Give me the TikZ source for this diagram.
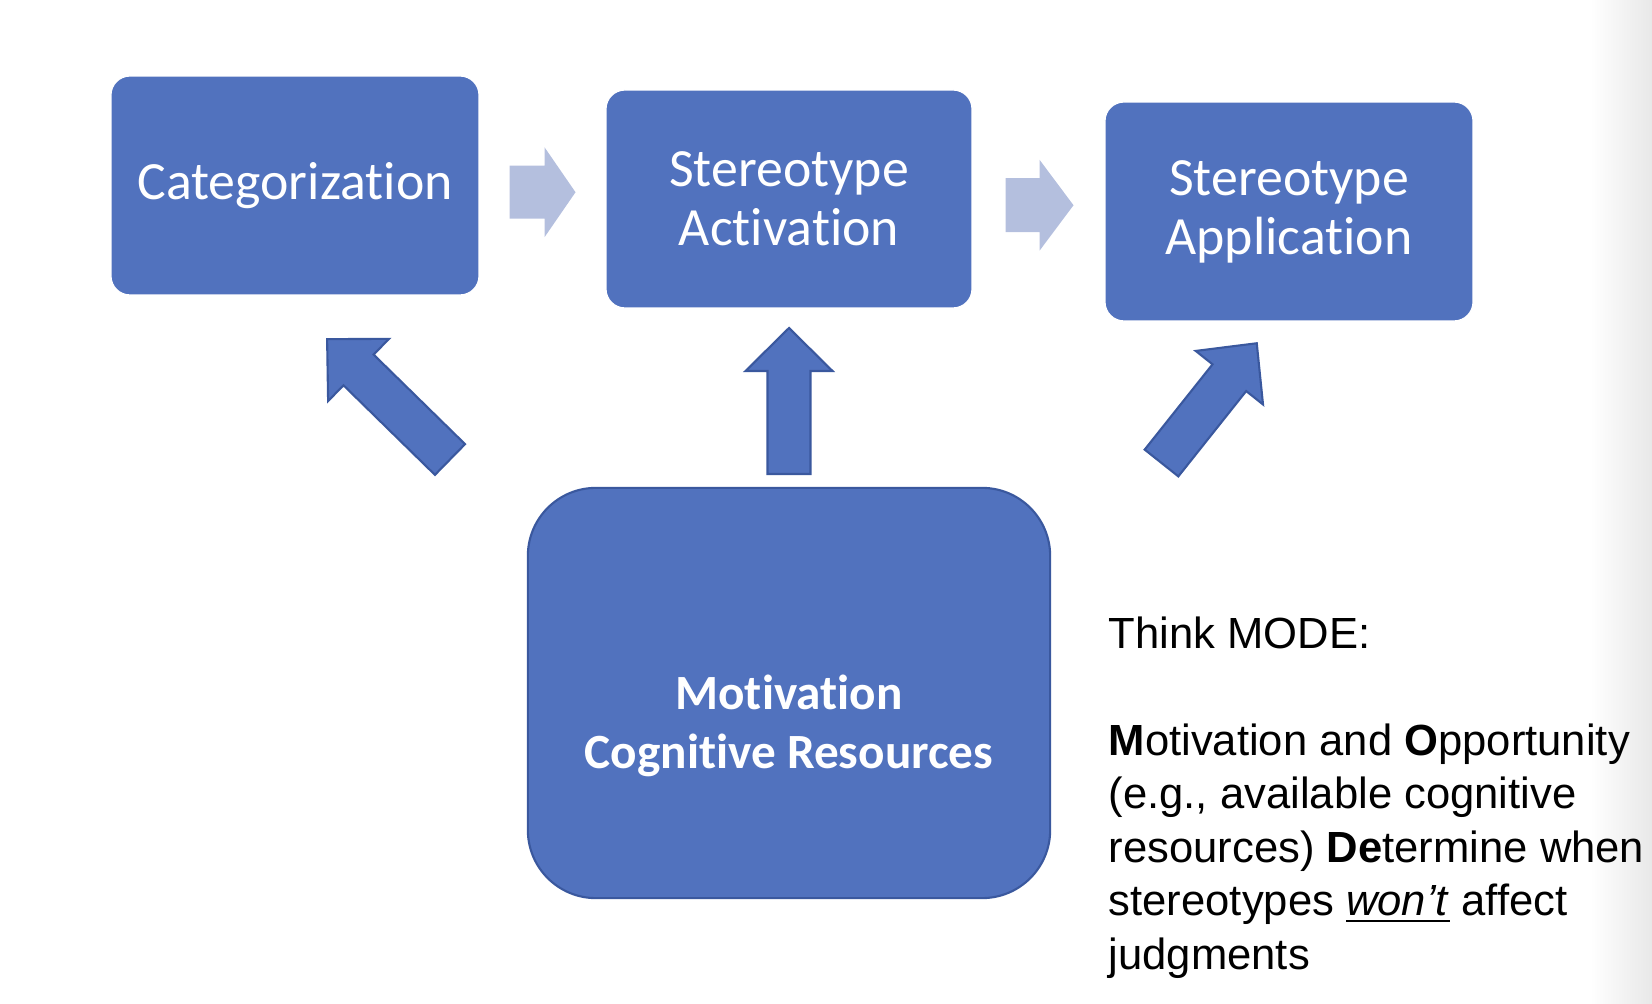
\documentclass[tikz,border=0pt]{standalone}
\usepackage{fontspec}
\setmainfont{Carlito}[RawFeature=-liga]
\newfontfamily\notefont{Liberation Sans}
\usetikzlibrary{calc}

\definecolor{boxblue}{RGB}{81,114,190}
\definecolor{boxline}{RGB}{58,88,158}
\definecolor{paleblue}{RGB}{180,191,222}

% fat block arrow: style, start, angle, length, shaft half width, head half width, head length
\newcommand{\blockarrow}[7]{%
  \begin{scope}[shift={#2},rotate=#3]
    \path[#1] (0,-#5) -- ({#4-#7},-#5) -- ({#4-#7},-#6) -- (#4,0)
      -- ({#4-#7},#6) -- ({#4-#7},#5) -- (0,#5) -- cycle;
  \end{scope}}

\tikzset{
  stagebox/.style={fill=boxblue,draw=white,line width=0.4pt,rounded corners=0.19cm,
    minimum width=3.68cm,minimum height=2.19cm,text=white,align=center,
    font=\fontsize{15.3}{16.8}\selectfont},
  bigbox/.style={fill=boxblue,draw=boxline,line width=0.6pt,rounded corners=0.68cm,
    minimum width=5.22cm,minimum height=4.10cm},
  bluearrow/.style={fill=boxblue,draw=boxline,line width=0.6pt},
  palearrow/.style={fill=paleblue}
}

\begin{document}
\begin{tikzpicture}[x=0.01cm,y=0.01cm]
\useasboundingbox (0,0) rectangle (1652,-1004);

% Right edge shading
\shade[left color=white,right color=black!9] (1590,0) rectangle (1652,-1004);

% Stage boxes
\node[stagebox] (categ) at (295,-185.5) {Categorization};
\node[stagebox,minimum width=3.66cm,minimum height=2.18cm] (activ) at (789,-199) {Stereotype\\Activation};
\node[stagebox] (appl) at (1289,-211.5) {Stereotype\\Application};

% Motivation box
\node[bigbox] (motiv) at (789,-693) {};
\node[text=white,align=center,font=\bfseries\fontsize{14}{17}\selectfont] (motivtext)
  at ($(motiv.center)+(0,-33)$) {Motivation\\Cognitive Resources};

% Pale arrows between stages
\blockarrow{palearrow}{($(categ.east)!0.5!(activ.west)+(-33,0)$)}{0}{66}{26.5}{45}{31}
\blockarrow{palearrow}{($(activ.east)!0.5!(appl.west)+(-33,0)$)}{0}{68}{27}{45.5}{34}

% Arrows out of the motivation box
\blockarrow{bluearrow}{(450,-459.5)}{135.6}{172}{21.5}{43.5}{44}
\blockarrow{bluearrow}{(789,-474)}{90}{146}{21.5}{43.5}{43}
\blockarrow{bluearrow}{(1161.5,-463)}{51.5}{153}{21.5}{43}{44}

% Note on the right
\node[anchor=north west,inner sep=0pt,align=left,font=\notefont\fontsize{12.4}{15.2}\selectfont] (mode)
  at (1108,-616) {Think MODE:\\[15.2pt]
  \textbf{M}otivation and \textbf{O}pportunity\\
  (e.g., available cognitive\\
  resources) \textbf{De}termine when\\
  stereotypes \underline{\textit{won’t}} affect\\
  judgments};

\end{tikzpicture}
\end{document}
